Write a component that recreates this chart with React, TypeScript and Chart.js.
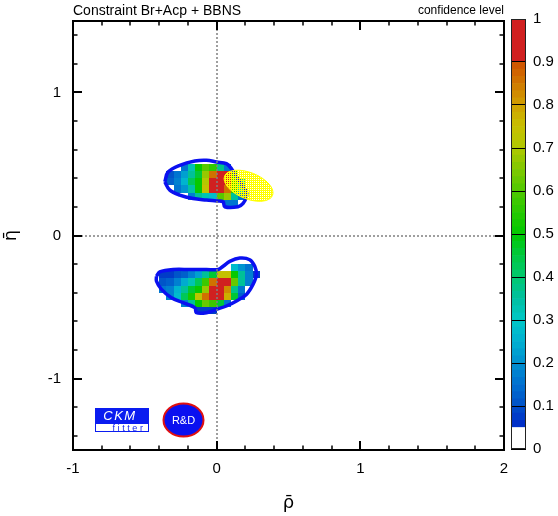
import React, { useEffect, useRef } from 'react';
import { Chart, registerables } from 'chart.js';

Chart.register(...registerables);

const FONT = "'Liberation Sans', Arial, Helvetica, sans-serif";
const TITLE_FONT = "'DejaVu Sans', 'Liberation Sans', sans-serif";

// ---------- axes ----------
const X_MIN = -1;
const X_MAX = 2;
const Y_MIN = -1.5;
const Y_MAX = 1.5;
const X_TICKS = [-1, -0.8, -0.6, -0.4, -0.2, 0, 0.2, 0.4, 0.6, 0.8, 1, 1.2, 1.4, 1.6, 1.8, 2];
const Y_TICKS = [-1.4, -1.2, -1, -0.8, -0.6, -0.4, -0.2, 0, 0.2, 0.4, 0.6, 0.8, 1, 1.2, 1.4];
const CB_TICKS = [0, 0.1, 0.2, 0.3, 0.4, 0.5, 0.6, 0.7, 0.8, 0.9, 1];

const TITLE_TEXT = 'Constraint Br+Acp + BBNS';
const CB_TITLE = 'confidence level';
const X_TITLE = 'ρ\u0304';
const Y_TITLE = 'η\u0304';

// ---------- confidence-level grid (cell size 0.05) ----------
const CELL = 0.05;

// upper solution: first column left edge / first row top edge
const UPPER_X0 = -0.35;
const UPPER_Y0 = 0.5;
const UPPER_ROWS: (number | null)[][] = [
  [null, null, 0.15, 0.33, 0.50, 0.61, 0.55, 0.38, 0.15, null, null],
  [0.10, 0.15, 0.22, 0.35, 0.45, 0.68, 0.86, 0.95, 0.90, 0.50, null],
  [0.12, 0.17, 0.26, 0.42, 0.50, 0.70, 0.95, 0.95, 0.90, 0.58, 0.30],
  [null, 0.15, 0.20, 0.34, 0.50, 0.74, 0.95, 0.95, 0.86, 0.55, 0.30],
  [null, null, null, 0.17, 0.35, 0.32, 0.28, 0.60, 0.68, 0.35, 0.15],
  [null, null, null, null, null, null, null, null, 0.15, 0.15, null],
];

// lower solution
const LOWER_X0 = -0.4;
const LOWER_Y0 = -0.2;
const LOWER_ROWS: (number | null)[][] = [
  [null, null, null, null, null, null, null, null, null, null, 0.27, 0.20, 0.15, null],
  [0.07, 0.07, 0.10, 0.12, 0.17, 0.22, 0.35, 0.45, 0.74, 0.74, 0.50, 0.35, 0.17, 0.08],
  [0.10, 0.12, 0.17, 0.24, 0.32, 0.42, 0.57, 0.86, 0.95, 0.95, 0.62, 0.35, 0.17, null],
  [0.15, 0.17, 0.25, 0.35, 0.45, 0.50, 0.68, 0.95, 0.95, 0.83, 0.38, 0.15, null, null],
  [null, 0.17, 0.28, 0.42, 0.52, 0.72, 0.86, 0.95, 0.95, 0.78, 0.45, 0.12, null, null],
  [null, null, null, 0.17, 0.35, 0.50, 0.62, 0.58, 0.45, 0.15, null, null, null, null],
  [null, null, null, null, null, 0.07, 0.07, 0.07, null, null, null, null, null, null],
];

// ---------- contours ----------
const UPPER_CONTOUR: [number, number][] = [
  [-0.361, 0.375], [-0.338, 0.444], [-0.257, 0.491], [-0.152, 0.521], [-0.071, 0.526],
  [-0.001, 0.514], [0.068, 0.502], [0.103, 0.467], [0.161, 0.375], [0.207, 0.306],
  [0.207, 0.271], [0.184, 0.224], [0.149, 0.201], [0.056, 0.201], [0.045, 0.236],
  [0.0, 0.241], [-0.071, 0.248], [-0.164, 0.259], [-0.257, 0.283], [-0.326, 0.317],
  [-0.361, 0.375],
];

const LOWER_CONTOUR: [number, number][] = [
  [-0.419, -0.285], [-0.396, -0.255], [-0.303, -0.238], [-0.187, -0.238], [-0.071, -0.238],
  [0.010, -0.238], [0.045, -0.215], [0.091, -0.181], [0.161, -0.158], [0.230, -0.169],
  [0.265, -0.215], [0.277, -0.273], [0.253, -0.342], [0.207, -0.412], [0.138, -0.458],
  [0.068, -0.493], [-0.001, -0.516], [-0.071, -0.540], [-0.141, -0.540], [-0.152, -0.505],
  [-0.234, -0.470], [-0.315, -0.435], [-0.384, -0.377], [-0.419, -0.319], [-0.419, -0.285],
];

// ---------- BBNS ellipse ----------
const ELLIPSE_CX = 0.222;
const ELLIPSE_CY = 0.348;
const ELLIPSE_A = 0.18;
const ELLIPSE_B = 0.092;
const ELLIPSE_TILT_DEG = 22;

// ---------- palette ----------
const PALETTE_STOPS: [number, [number, number, number]][] = [
  [0.05, [0, 40, 200]], [0.10, [0, 80, 200]], [0.15, [0, 112, 208]], [0.20, [0, 144, 208]],
  [0.25, [0, 176, 208]], [0.30, [0, 200, 200]], [0.35, [0, 192, 160]], [0.40, [0, 200, 112]],
  [0.45, [0, 200, 64]], [0.50, [0, 200, 0]], [0.55, [40, 200, 0]], [0.60, [80, 200, 0]],
  [0.65, [128, 200, 0]], [0.70, [176, 200, 0]], [0.75, [200, 192, 0]], [0.80, [208, 160, 0]],
  [0.85, [208, 120, 0]], [0.90, [208, 80, 0]],
];
const TOP_RED = 'rgb(208,32,32)';
const LEVELS_PER_UNIT = 60;

function palette(v: number): string {
  if (v < 0.05) return '#ffffff';
  if (v >= 0.9) return TOP_RED;
  for (let i = 0; i < PALETTE_STOPS.length - 1; i++) {
    const [a, ca] = PALETTE_STOPS[i];
    const [b, cb] = PALETTE_STOPS[i + 1];
    if (v >= a && v <= b) {
      const t = (v - a) / (b - a);
      const c = ca.map((q, k) => Math.round(q + (cb[k] - q) * t));
      return `rgb(${c[0]},${c[1]},${c[2]})`;
    }
  }
  return TOP_RED;
}
function cellColor(v: number): string {
  const lvl = Math.floor(v * LEVELS_PER_UNIT);
  return palette((lvl + 0.5) / LEVELS_PER_UNIT);
}

const CONTOUR_BLUE = '#0a10f0';

const isInt = (v: number) => Math.abs(v - Math.round(v)) < 1e-9;

function drawCells(ctx: CanvasRenderingContext2D, xs: any, ys: any, x0: number, y0: number, rows: (number | null)[][]) {
  rows.forEach((row, r) => {
    row.forEach((v, c) => {
      if (v == null) return;
      const xl = Math.round(xs.getPixelForValue(x0 + c * CELL));
      const xr = Math.round(xs.getPixelForValue(x0 + (c + 1) * CELL));
      const yt = Math.round(ys.getPixelForValue(y0 - r * CELL));
      const yb = Math.round(ys.getPixelForValue(y0 - (r + 1) * CELL));
      ctx.fillStyle = cellColor(v);
      ctx.fillRect(xl, yt, xr - xl, yb - yt);
    });
  });
}

const cellsPlugin = {
  id: 'cells',
  beforeDatasetsDraw(chart: any) {
    const { ctx, scales } = chart;
    ctx.save();
    drawCells(ctx, scales.x, scales.y, UPPER_X0, UPPER_Y0, UPPER_ROWS);
    drawCells(ctx, scales.x, scales.y, LOWER_X0, LOWER_Y0, LOWER_ROWS);
    ctx.restore();
  },
};

function makeHatch(): CanvasPattern | string {
  const c = document.createElement('canvas');
  c.width = 2;
  c.height = 2;
  const g = c.getContext('2d');
  if (!g) return 'rgba(255,255,0,0.8)';
  g.fillStyle = '#ffff00';
  g.fillRect(0, 0, 1, 1);
  g.fillRect(1, 1, 1, 1);
  g.fillRect(1, 0, 1, 1);
  const p = g.createPattern(c, 'repeat');
  return p || 'rgba(255,255,0,0.8)';
}

const overlayPlugin = {
  id: 'overlay',
  afterDatasetsDraw(chart: any) {
    const { ctx, chartArea: a, scales } = chart;
    const xs = scales.x;
    const ys = scales.y;
    ctx.save();

    // BBNS ellipse
    const cx = xs.getPixelForValue(ELLIPSE_CX);
    const cy = ys.getPixelForValue(ELLIPSE_CY);
    const rx = Math.abs(xs.getPixelForValue(ELLIPSE_CX + ELLIPSE_A) - cx);
    const ry = Math.abs(ys.getPixelForValue(ELLIPSE_CY + ELLIPSE_B) - cy);
    ctx.beginPath();
    ctx.ellipse(cx, cy, rx, ry, (ELLIPSE_TILT_DEG * Math.PI) / 180, 0, Math.PI * 2);
    ctx.fillStyle = makeHatch();
    ctx.fill();
    ctx.strokeStyle = '#ffff00';
    ctx.lineWidth = 1;
    ctx.stroke();

    // zero lines
    ctx.strokeStyle = '#808080';
    ctx.lineWidth = 1.5;
    ctx.setLineDash([2, 2]);
    const x0 = Math.round(xs.getPixelForValue(0));
    const y0 = Math.round(ys.getPixelForValue(0));
    ctx.beginPath();
    ctx.moveTo(x0, a.top);
    ctx.lineTo(x0, a.bottom);
    ctx.moveTo(a.left, y0);
    ctx.lineTo(a.right, y0);
    ctx.stroke();
    ctx.setLineDash([]);

    // frame
    ctx.strokeStyle = '#000';
    ctx.lineWidth = 2;
    ctx.strokeRect(a.left, a.top, a.right - a.left, a.bottom - a.top);

    // inward ticks on all sides
    const seg = (x1: number, y1: number, x2: number, y2: number) => {
      ctx.beginPath();
      ctx.moveTo(x1, y1);
      ctx.lineTo(x2, y2);
      ctx.stroke();
    };
    xs.ticks.forEach((t: any) => {
      const px = Math.round(xs.getPixelForValue(t.value));
      if (px <= a.left + 1 || px >= a.right - 1) return;
      const major = isInt(t.value);
      const len = major ? 9 : 4.5;
      ctx.lineWidth = major ? 2 : 1.5;
      seg(px, a.bottom, px, a.bottom - len);
      seg(px, a.top, px, a.top + len);
    });
    ys.ticks.forEach((t: any) => {
      const py = Math.round(ys.getPixelForValue(t.value));
      if (py <= a.top + 1 || py >= a.bottom - 1) return;
      const major = isInt(t.value);
      const len = major ? 9 : 4.5;
      ctx.lineWidth = major ? 2 : 1.5;
      seg(a.left, py, a.left + len, py);
      seg(a.right, py, a.right - len, py);
    });

    // header texts
    ctx.fillStyle = '#000';
    ctx.textBaseline = 'alphabetic';
    ctx.font = `14px ${FONT}`;
    ctx.textAlign = 'left';
    ctx.fillText(TITLE_TEXT, a.left, 15);
    ctx.font = `12px ${FONT}`;
    ctx.textAlign = 'right';
    ctx.fillText(CB_TITLE, a.right, 14);

    // CKMfitter logo
    const lx = a.left + 22;
    const ly = a.bottom - 42;
    ctx.fillStyle = '#0a1cf0';
    ctx.fillRect(lx, ly, 54, 15);
    ctx.fillStyle = '#ffffff';
    ctx.fillRect(lx, ly + 15, 54, 9);
    ctx.strokeStyle = '#0a1cf0';
    ctx.lineWidth = 1;
    ctx.strokeRect(lx + 0.5, ly + 15.5, 53, 8);
    ctx.fillStyle = '#ffffff';
    ctx.font = `italic 13px ${FONT}`;
    (ctx as any).letterSpacing = '1.5px';
    ctx.textAlign = 'center';
    ctx.fillText('CKM', lx + 25, ly + 12);
    ctx.fillStyle = '#0a1cf0';
    ctx.font = `9px ${FONT}`;
    (ctx as any).letterSpacing = '2.6px';
    ctx.fillText('fitter', lx + 34, ly + 22.5);
    (ctx as any).letterSpacing = '0px';

    // R&D logo
    const ex = a.left + 110.5;
    const ey = a.bottom - 30;
    ctx.beginPath();
    ctx.ellipse(ex, ey, 20, 16.5, 0, 0, Math.PI * 2);
    ctx.fillStyle = '#0a10f0';
    ctx.fill();
    ctx.strokeStyle = '#e01010';
    ctx.lineWidth = 2;
    ctx.stroke();
    ctx.fillStyle = '#ffffff';
    ctx.font = `11px ${FONT}`;
    ctx.textAlign = 'center';
    ctx.textBaseline = 'middle';
    ctx.fillText('R&D', ex, ey + 1);

    ctx.restore();
  },
};

const colorbarFrame = {
  id: 'cbframe',
  afterDraw(chart: any) {
    const { ctx, chartArea: a } = chart;
    ctx.save();
    ctx.strokeStyle = '#222';
    ctx.lineWidth = 1;
    ctx.strokeRect(Math.round(a.left) + 0.5, Math.round(a.top) + 0.5, Math.round(a.right - a.left) - 1, Math.round(a.bottom - a.top) - 1);
    ctx.restore();
  },
};

export default function App() {
  const mainRef = useRef<HTMLCanvasElement>(null);
  const cbRef = useRef<HTMLCanvasElement>(null);

  useEffect(() => {
    Chart.defaults.font.family = FONT;
    Chart.defaults.color = '#000';
    if (!mainRef.current || !cbRef.current) return;

    const contourDs = (pts: [number, number][]) => ({
      data: pts.map(([x, y]) => ({ x, y })),
      showLine: true,
      borderColor: CONTOUR_BLUE,
      borderWidth: 3.5,
      pointRadius: 0,
      tension: 0.35,
      fill: false,
    });

    const main = new Chart(mainRef.current, {
      type: 'scatter',
      data: { datasets: [contourDs(UPPER_CONTOUR), contourDs(LOWER_CONTOUR)] as any },
      options: {
        responsive: false,
        animation: false,
        layout: { padding: { left: 0, right: 54, top: 18, bottom: 0 } },
        plugins: { legend: { display: false }, tooltip: { enabled: false }, title: { display: false } },
        scales: {
          x: {
            type: 'linear',
            min: X_MIN,
            max: X_MAX,
            afterBuildTicks: (s: any) => { s.ticks = X_TICKS.map((v) => ({ value: v })); },
            afterFit: (s: any) => { s.height = 66; },
            grid: { display: false, drawTicks: false },
            border: { display: false },
            ticks: {
              autoSkip: false,
              maxRotation: 0,
              padding: 10,
              color: '#000',
              font: { size: 15 },
              callback: (v: any) => (isInt(Number(v)) ? String(Math.round(Number(v))) : ''),
            },
            title: { display: true, text: X_TITLE, color: '#000', font: { size: 18, family: TITLE_FONT }, padding: { top: 0, bottom: 2 } },
          },
          y: {
            type: 'linear',
            min: Y_MIN,
            max: Y_MAX,
            afterBuildTicks: (s: any) => { s.ticks = Y_TICKS.map((v) => ({ value: v })); },
            afterFit: (s: any) => { s.width = 73; },
            grid: { display: false, drawTicks: false },
            border: { display: false },
            ticks: {
              autoSkip: false,
              padding: 12,
              color: '#000',
              font: { size: 15 },
              callback: (v: any) => (isInt(Number(v)) ? String(Math.round(Number(v))) : ''),
            },
            title: { display: true, text: Y_TITLE, color: '#000', font: { size: 18, family: TITLE_FONT }, padding: { top: 1, bottom: 0 } },
          },
        },
      } as any,
      plugins: [cellsPlugin, overlayPlugin],
    });

    // colour bar: stacked bands
    const bands: { h: number; color: string }[] = [{ h: 0.05, color: '#ffffff' }];
    const nMid = Math.round((0.9 - 0.05) * LEVELS_PER_UNIT);
    for (let i = 0; i < nMid; i++) {
      bands.push({ h: 1 / LEVELS_PER_UNIT, color: palette(0.05 + (i + 0.5) / LEVELS_PER_UNIT) });
    }
    bands.push({ h: 0.1, color: TOP_RED });

    const cb = new Chart(cbRef.current, {
      type: 'bar',
      data: {
        labels: [''],
        datasets: bands.map((b) => ({
          data: [b.h],
          backgroundColor: b.color,
          borderWidth: 0,
          barPercentage: 1,
          categoryPercentage: 1,
        })),
      },
      options: {
        responsive: false,
        animation: false,
        layout: { padding: { left: 6, right: 0, top: 19, bottom: 67 } },
        plugins: { legend: { display: false }, tooltip: { enabled: false } },
        scales: {
          x: { stacked: true, display: false },
          y: {
            stacked: true,
            position: 'right',
            min: 0,
            max: 1,
            afterBuildTicks: (s: any) => { s.ticks = CB_TICKS.map((v) => ({ value: v })); },
            afterFit: (s: any) => { s.width = 32; },
            grid: { color: '#000', lineWidth: 1, z: 1, drawTicks: false },
            border: { display: false },
            ticks: { padding: 7, color: '#000', font: { size: 15 }, callback: (v: any) => String(v) },
          },
        },
      } as any,
      plugins: [colorbarFrame],
    });

    return () => {
      main.destroy();
      cb.destroy();
    };
  }, []);

  return (
    <div style={{ position: 'absolute', left: 0, top: 0, width: 558, height: 516, background: '#fff' }}>
      <canvas ref={mainRef} width={558} height={516} style={{ position: 'absolute', left: 0, top: 0 }} />
      <canvas ref={cbRef} width={53} height={516} style={{ position: 'absolute', left: 505, top: 0 }} />
    </div>
  );
}
